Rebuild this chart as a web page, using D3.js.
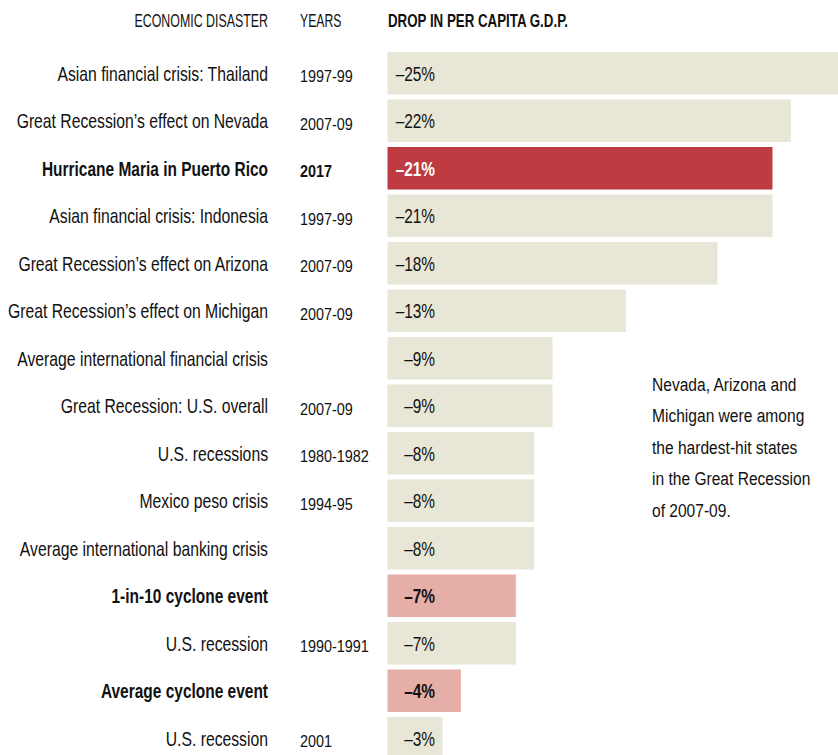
<!DOCTYPE html>
<html lang="en">
<head>
<meta charset="UTF-8">
<title>Drop in per capita GDP</title>
<style>
  body { margin: 0; background: #fff; }
  svg text { font-family: "Liberation Sans", Arial, sans-serif; fill: #111; }
  .head { font-size: 18.5px; }
  .label { font-size: 21px; }
  .years { font-size: 16px; }
  .value { font-size: 20px; }
  .note { font-size: 19px; }
</style>
</head>
<body>
<div id="chart"></div>
<script src="https://d3js.org/d3.v7.min.js"></script>
<script>
var disasters = [
  "Asian financial crisis: Thailand",
  "Great Recession\u2019s effect on Nevada",
  "Hurricane Maria in Puerto Rico",
  "Asian financial crisis: Indonesia",
  "Great Recession\u2019s effect on Arizona",
  "Great Recession\u2019s effect on Michigan",
  "Average international financial crisis",
  "Great Recession: U.S. overall",
  "U.S. recessions",
  "Mexico peso crisis",
  "Average international banking crisis",
  "1-in-10 cyclone event",
  "U.S. recession",
  "Average cyclone event",
  "U.S. recession"
];
var years = ["1997-99", "2007-09", "2017", "1997-99", "2007-09", "2007-09", "",
  "2007-09", "1980-1982", "1994-95", "", "", "1990-1991", "", "2001"];
var drops = [25, 22, 21, 21, 18, 13, 9, 9, 8, 8, 8, 7, 7, 4, 3];
// 0 = economic, 1 = Maria, 2 = cyclone
var kinds = [0, 0, 1, 0, 0, 0, 0, 0, 0, 0, 0, 2, 0, 2, 0];
var noteLines = ["Nevada, Arizona and", "Michigan were among", "the hardest-hit states",
  "in the Great Recession", "of 2007-09."];

var W = 838, H = 755;
var fills = ["#e8e6d6", "#be3b41", "#e5aea6"];

var svg = d3.select("#chart").append("svg")
  .attr("width", W).attr("height", H);

// no condensed font installed, so squeeze the text horizontally
function squeeze(tx, ty, s) {
  return "translate(" + tx + "," + ty + ") scale(" + s + ",1)";
}

var x0 = 387.5;
var x = d3.scaleLinear().domain([0, 25]).range([0, 458.3]);
var y = d3.scaleBand().domain(d3.range(drops.length))
  .range([52, 759.5]).paddingInner(0.105).paddingOuter(0);

// headers
svg.append("text").attr("class", "head")
  .attr("transform", squeeze(268, 26.5, 0.67))
  .attr("text-anchor", "end").text("ECONOMIC DISASTER");
svg.append("text").attr("class", "head")
  .attr("transform", squeeze(300, 26.5, 0.66))
  .text("YEARS");
svg.append("text").attr("class", "head")
  .attr("transform", squeeze(388, 26.5, 0.72))
  .attr("font-weight", "bold").text("DROP IN PER CAPITA G.D.P.");

var rows = svg.append("g").selectAll("g").data(drops).join("g")
  .attr("transform", function(d, i) { return "translate(0," + y(i) + ")"; });

rows.append("rect")
  .attr("x", x0).attr("y", 0)
  .attr("width", function(d) { return x(d); })
  .attr("height", y.bandwidth())
  .attr("fill", function(d, i) { return fills[kinds[i]]; });

var base = y.bandwidth() / 2 + 7.5;

rows.append("text").attr("class", "label")
  .attr("transform", function(d, i) { return squeeze(268, base, kinds[i] ? 0.737 : 0.75); })
  .attr("text-anchor", "end")
  .attr("font-weight", function(d, i) { return kinds[i] ? "bold" : null; })
  .text(function(d, i) { return disasters[i]; });

rows.append("text").attr("class", "years")
  .attr("transform", squeeze(300, base + 1.5, 0.9))
  .attr("font-weight", function(d, i) { return kinds[i] ? "bold" : null; })
  .text(function(d, i) { return years[i]; });

rows.append("text").attr("class", "value")
  .attr("transform", squeeze(435, base, 0.77))
  .attr("text-anchor", "end")
  .attr("font-weight", function(d, i) { return kinds[i] ? "bold" : null; })
  .style("fill", function(d, i) { return kinds[i] === 1 ? "#fff" : null; })
  .text(function(d) { return "\u2013" + d + "%"; });

// annotation
svg.append("g").attr("transform", squeeze(652, 0, 0.82))
  .append("text").attr("class", "note")
  .selectAll("tspan").data(noteLines).join("tspan")
  .attr("x", 0).attr("y", function(d, i) { return 391 + i * 31.5; })
  .text(function(d) { return d; });
</script>
</body>
</html>
